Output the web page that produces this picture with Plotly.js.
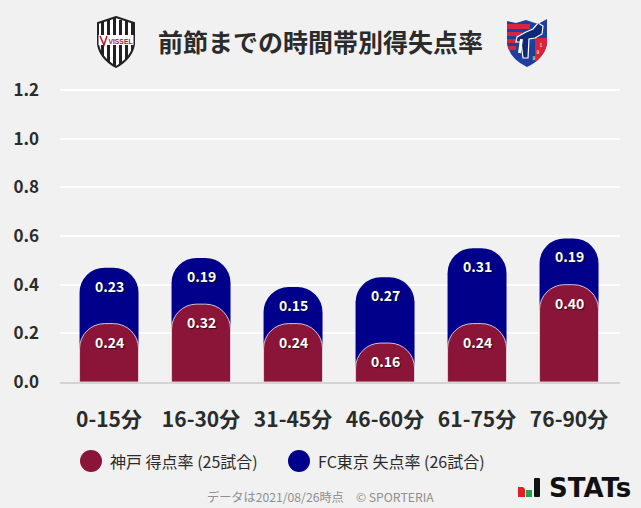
<!DOCTYPE html>
<html><head><meta charset="utf-8">
<script src="https://cdn.plot.ly/plotly-3.0.1.min.js"></script>
<style>html,body{margin:0;padding:0;background:#f1f1f1;overflow:hidden}#c{width:641px;height:508px}</style>
</head><body><div id="c"></div>
<script>
const categories = ['0-15分','16-30分','31-45分','46-60分','61-75分','76-90分'];
const kobeScored = [0.24,0.32,0.24,0.16,0.24,0.40];
const tokyoConceded = [0.23,0.19,0.15,0.27,0.31,0.19];
const yTicks = [0,0.2,0.4,0.6,0.8,1.0,1.2];
const kobeName = '神戸 得点率 (25試合)';
const tokyoName = 'FC東京 失点率 (26試合)';
const titleText = '前節までの時間帯別得失点率';
const footerText = 'データは2021/08/26時点　© SPORTERIA';
const RED='#8a1538', BLUE='#00008b', INK='#2b2b2b';
const FONT='"Noto Sans CJK JP","Noto Sans",sans-serif';
const stackTop = kobeScored.map((v,i)=>+(v+tokyoConceded[i]).toFixed(2));

const PX=60, PW=560, PB=382, PH=294;
const fx=p=>(p-PX)/PW, fy=p=>(PB-p)/PH;

const vissel = 'data:image/svg+xml;utf8,'+encodeURIComponent(`<svg xmlns="http://www.w3.org/2000/svg" viewBox="0 0 40 52"><defs><clipPath id="s"><path d="M20 1 L38 7 L38 28 Q36 42 20 51 Q4 42 2 28 L2 7 Z"/></clipPath></defs><path d="M20 1 L38 7 L38 28 Q36 42 20 51 Q4 42 2 28 L2 7 Z" fill="#fff" stroke="#222" stroke-width="2"/><g clip-path="url(#s)" fill="#222"><rect x="5" y="4" width="3" height="44"/><rect x="11" y="4" width="3" height="44"/><rect x="17" y="1" width="3" height="50"/><rect x="23" y="4" width="3" height="44"/><rect x="29" y="4" width="3" height="44"/><rect x="35" y="4" width="3" height="44"/></g><rect x="2.500" y="19" width="35" height="10" fill="#fff"/><path d="M4 20 L8 29 L11 20" fill="none" stroke="#c01030" stroke-width="1.500"/><text x="24.500" y="27.500" font-size="6.800" font-weight="700" font-family="Liberation Sans" text-anchor="middle" fill="#a8183a">VISSEL</text></svg>`);
const fctokyo = 'data:image/svg+xml;utf8,'+encodeURIComponent(`<svg xmlns="http://www.w3.org/2000/svg" viewBox="0 0 42 50"><defs><clipPath id="t"><path d="M1 3 L10 5 L20 2 L32 6 L41 1 L41 26 Q38 41 21 49 Q4 41 1 26 Z"/></clipPath></defs><g clip-path="url(#t)"><rect width="42" height="50" fill="#1d3f9e"/><rect y="6" width="24" height="5" fill="#d8243c"/><rect y="14" width="16" height="4" fill="#d8243c"/><rect y="21" width="12" height="4" fill="#d8243c"/><rect y="28" width="10" height="4" fill="#d8243c"/><rect x="29" y="20" width="13" height="30" fill="#d8243c"/><path d="M20 14 L27 11 L32 5 L37 8 L36 16 L29 20 L23 21 L22 40 L17 40 L15 24 L10 24 L11 19 Z" fill="#0d2a78" stroke="#fff" stroke-width="1.200"/><rect x="13" y="21" width="3" height="14" fill="#fff" transform="rotate(8 14 28)"/><text x="35" y="29" font-size="5" font-weight="700" font-family="Liberation Sans" text-anchor="middle" fill="#f3d878">1</text><text x="32" y="36" font-size="5" font-weight="700" font-family="Liberation Sans" text-anchor="middle" fill="#f3d878">9</text><text x="28" y="42" font-size="5" font-weight="700" font-family="Liberation Sans" text-anchor="middle" fill="#f3d878">9</text></g></svg>`);
const stats = 'data:image/svg+xml;utf8,'+encodeURIComponent(`<svg xmlns="http://www.w3.org/2000/svg" viewBox="0 0 22 19"><path d="M0 9 L5 9 L7 11 L7 19 L0 19 Z" fill="#e01f26"/><rect x="8" y="12" width="6" height="7" fill="#1fa54a"/><rect x="16" y="0" width="6" height="19" rx="1" fill="#111"/></svg>`);

const data = [
 {type:'bar',name:tokyoName,x:categories,y:stackTop,marker:{color:BLUE,cornerradius:25},width:0.641,hoverinfo:'skip'},
 {type:'bar',name:kobeName,x:categories,y:kobeScored,yaxis:'y2',marker:{color:RED,cornerradius:25,line:{color:'rgba(255,255,255,0.75)',width:1}},width:0.641,hoverinfo:'skip'}
];
const labelFont={family:FONT,size:14,color:'#fff',weight:700,shadow:'1px 1px 1px rgba(0,0,0,.6)'};
const annotations=[];
categories.forEach((c,i)=>{
 annotations.push({x:c,y:stackTop[i],yshift:-18,text:tokyoConceded[i].toFixed(2),showarrow:false,font:labelFont});
 annotations.push({x:c,yref:'y2',y:kobeScored[i],yshift:-18,text:kobeScored[i].toFixed(2),showarrow:false,font:labelFont});
});
function paperText(px,py,text,size,color,anchor,weight,family){
 annotations.push({xref:'paper',yref:'paper',x:fx(px),y:fy(py),xanchor:anchor,yanchor:'middle',showarrow:false,text,font:{family:family||FONT,size,color,weight:weight||400}});
}
paperText(320.5,41,titleText,25,INK,'center',700);
paperText(108,461,kobeName,16,INK,'left');
paperText(316,461,tokyoName,16,INK,'left');
paperText(320.5,497,footerText,12.2,'#8f8f8f','center');
paperText(547,488,'STATs',26,'#111','left',700,'"DejaVu Sans"');
const circ=(cx,cy,r,col)=>({type:'circle',xref:'paper',yref:'paper',xsizemode:'pixel',ysizemode:'pixel',xanchor:fx(cx),yanchor:fy(cy),x0:-r,x1:r,y0:-r,y1:r,fillcolor:col,line:{width:0}});
const yRange=[0,1.2*PH/292];
const layout={
 width:641,height:508,paper_bgcolor:'#f1f1f1',plot_bgcolor:'#f1f1f1',showlegend:false,barmode:'overlay',
 margin:{l:PX,r:641-PX-PW,t:PB-PH,b:508-PB},font:{family:FONT},
 xaxis:{type:'category',range:[-0.533,5.554],tickfont:{family:FONT,size:21,color:INK,weight:700},ticks:'',showgrid:false,showline:true,linecolor:'#d4d4d4',linewidth:2,zeroline:false,ticklabelstandoff:18,fixedrange:true},
 yaxis:{range:yRange,tickvals:yTicks,ticktext:yTicks.map(v=>v.toFixed(1)),tickfont:{family:FONT,size:17,color:INK,weight:700},ticks:'',gridcolor:'#ffffff',gridwidth:2,zeroline:false,ticklabelstandoff:20,fixedrange:true},
 yaxis2:{range:yRange,overlaying:'y',visible:false,fixedrange:true},
 shapes:[circ(91,461,11,RED),circ(299,461,11,BLUE)],
 annotations,
 images:[
  {source:vissel,xref:'paper',yref:'paper',x:fx(96),y:fy(16),sizex:40/PW,sizey:52/PH,xanchor:'left',yanchor:'top',sizing:'stretch',layer:'above'},
  {source:fctokyo,xref:'paper',yref:'paper',x:fx(506),y:fy(18),sizex:42/PW,sizey:50/PH,xanchor:'left',yanchor:'top',sizing:'stretch',layer:'above'},
  {source:stats,xref:'paper',yref:'paper',x:fx(518),y:fy(478),sizex:22/PW,sizey:19/PH,xanchor:'left',yanchor:'top',sizing:'stretch',layer:'above'}
 ]
};
Plotly.newPlot('c',data,layout,{displayModeBar:false,staticPlot:true});
</script></body></html>
